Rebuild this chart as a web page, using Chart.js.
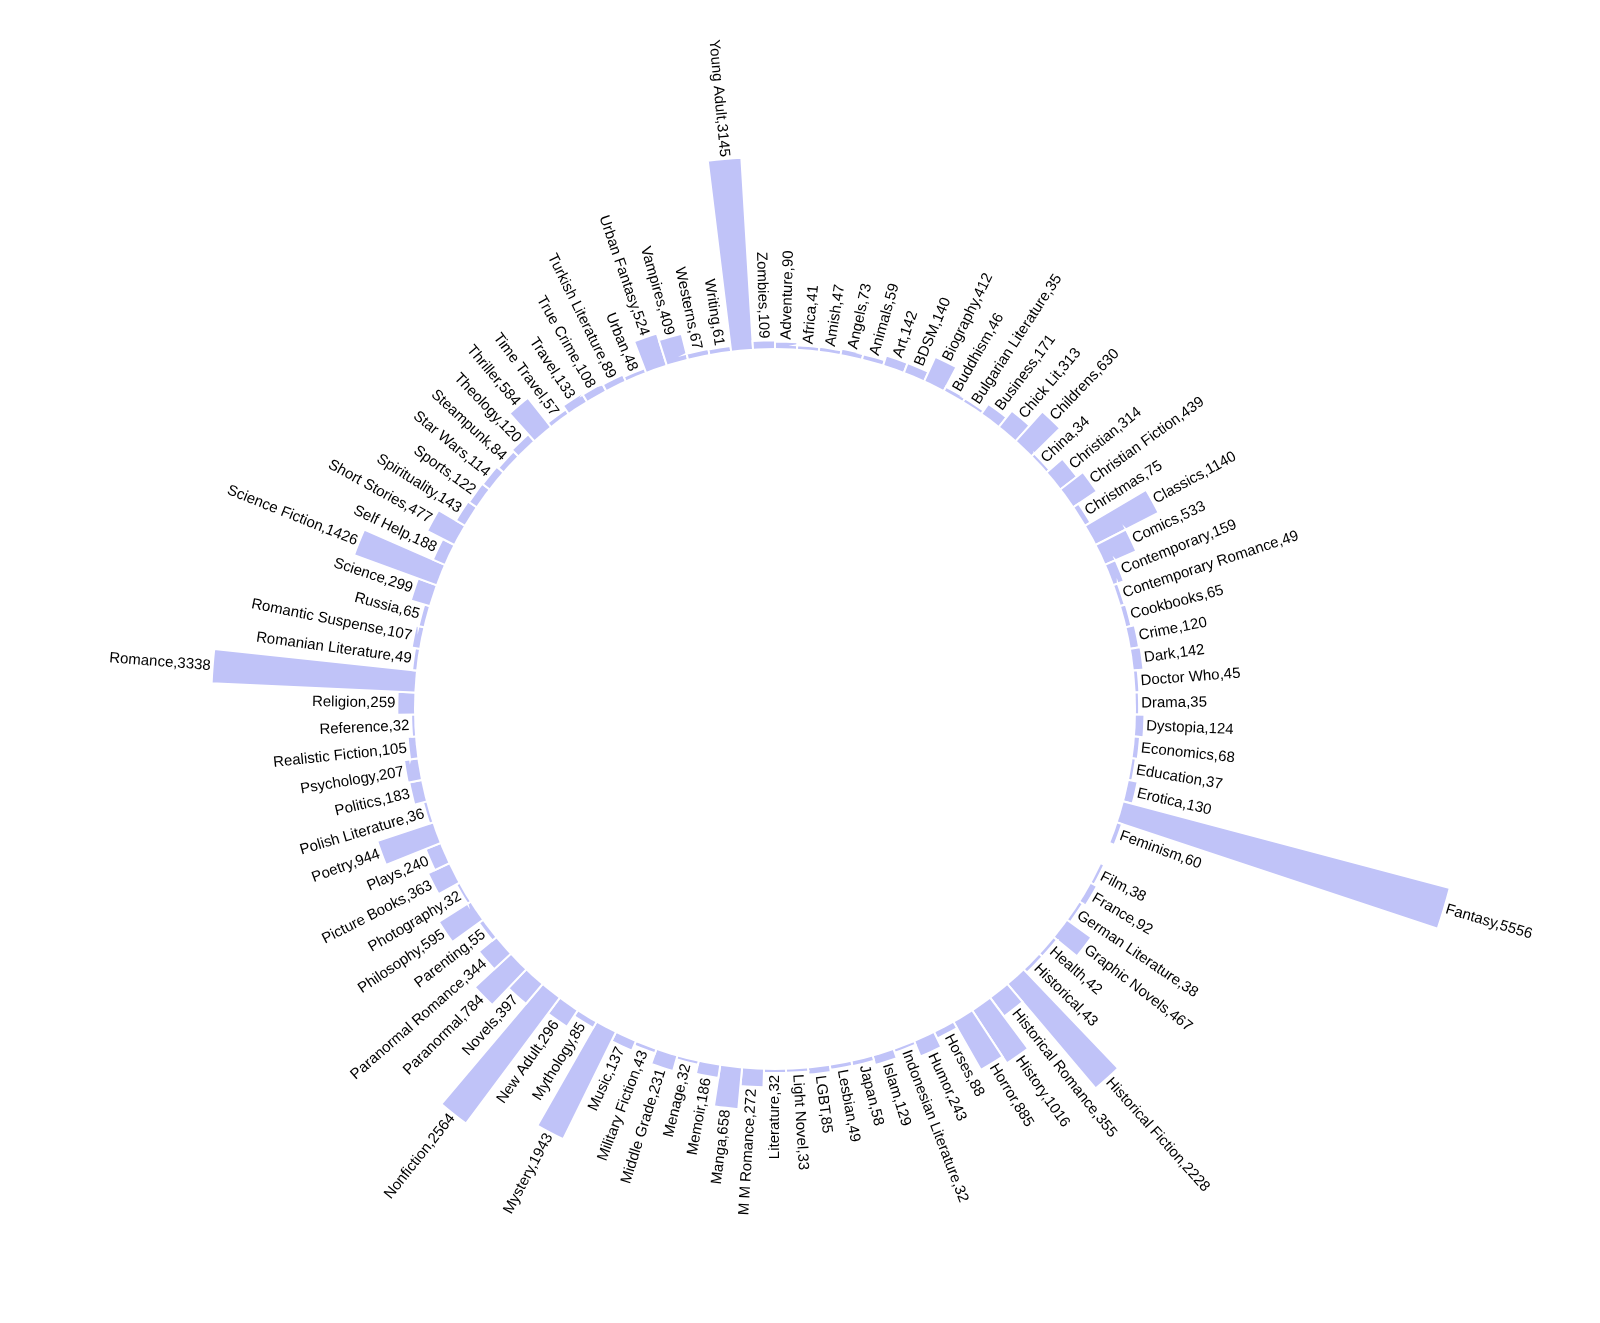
<!DOCTYPE HTML>
<html>

<head>
    <title>Books per genre</title>
    <meta charset="utf-8">
    <script src="https://cdn.jsdelivr.net/npm/chart.js@4.4.1/dist/chart.umd.min.js"></script>
    <style>
        html,
        body {
            margin: 0;
            padding: 0;
            background: #fff;
        }

        .container {
            position: relative;
            width: 1600px;
            height: 1323px;
        }
    </style>
</head>

<body>
    <section class="container">
        <canvas id="genre-chart"></canvas>
    </section>

    <script>
        /************************************/
        // one slot between Feminism and Film is empty in the original (no bar, no label)
        var genres = [
            "Adventure", "Africa", "Amish", "Angels", "Animals", "Art", "BDSM", "Biography", "Buddhism",
            "Bulgarian Literature", "Business", "Chick Lit", "Childrens", "China", "Christian",
            "Christian Fiction", "Christmas", "Classics", "Comics", "Contemporary", "Contemporary Romance",
            "Cookbooks", "Crime", "Dark", "Doctor Who", "Drama", "Dystopia", "Economics", "Education",
            "Erotica", "Fantasy", "Feminism", "", "Film", "France", "German Literature", "Graphic Novels",
            "Health", "Historical", "Historical Fiction", "Historical Romance", "History", "Horror",
            "Horses", "Humor", "Indonesian Literature", "Islam", "Japan", "Lesbian", "LGBT", "Light Novel",
            "Literature", "M M Romance", "Manga", "Memoir", "Menage", "Middle Grade", "Military Fiction",
            "Music", "Mystery", "Mythology", "New Adult", "Nonfiction", "Novels", "Paranormal",
            "Paranormal Romance", "Parenting", "Philosophy", "Photography", "Picture Books", "Plays",
            "Poetry", "Polish Literature", "Politics", "Psychology", "Realistic Fiction", "Reference",
            "Religion", "Romance", "Romanian Literature", "Romantic Suspense", "Russia", "Science",
            "Science Fiction", "Self Help", "Short Stories", "Spirituality", "Sports", "Star Wars",
            "Steampunk", "Theology", "Thriller", "Time Travel", "Travel", "True Crime",
            "Turkish Literature", "Urban", "Urban Fantasy", "Vampires", "Westerns", "Writing",
            "Young Adult", "Zombies"
        ];
        var counts = [
            90, 41, 47, 73, 59, 142, 140, 412, 46,
            35, 171, 313, 630, 34, 314,
            439, 75, 1140, 533, 159, 49,
            65, 120, 142, 45, 35, 124, 68, 37,
            130, 5556, 60, null, 38, 92, 38, 467,
            42, 43, 2228, 355, 1016, 885,
            88, 243, 32, 129, 58, 49, 85, 33,
            32, 272, 658, 186, 32, 231, 43,
            137, 1943, 85, 296, 2564, 397, 784,
            344, 55, 595, 32, 363, 240,
            944, 36, 183, 207, 105, 32,
            259, 3338, 49, 107, 65, 299,
            1426, 188, 477, 143, 122, 114,
            84, 120, 584, 57, 133, 108,
            89, 48, 524, 409, 67, 61,
            3145, 109
        ];
        /************************************/

        // ring geometry (canvas is the whole 1600x1323 page)
        var W = 1600, H = 1323;
        var CX = 775, CY = 709;      // centre of the ring
        var HOLE = 361;              // empty middle
        var PX_PER_BOOK = 0.0605;    // bar length per book
        var LABEL_GAP = 2;

        // the polar area scale starts at a negative value so that 0 sits on the hole edge
        // (+1px because the white border eats a pixel off each bar end)
        var padRight = W - 2 * CX;
        var padTop = 2 * CY - H;
        var drawArea = Math.floor(Math.min(W - padRight, H - padTop) / 2);
        var rMin = -(HOLE + 1) / PX_PER_BOOK;
        var rMax = rMin + drawArea / PX_PER_BOOK;

        var ringLabels = {
            id: 'ringLabels',
            afterDatasetsDraw: function (chart) {
                var ctx = chart.ctx;
                var scale = chart.scales.r;
                var cx = scale.xCenter, cy = scale.yCenter;

                ctx.save();
                // punch out the middle
                ctx.fillStyle = '#fff';
                ctx.beginPath();
                ctx.arc(cx, cy, HOLE, 0, Math.PI * 2);
                ctx.fill();

                ctx.font = '15px "Liberation Sans", Arial, sans-serif';
                ctx.fillStyle = '#000';
                ctx.textBaseline = 'middle';

                chart.getDatasetMeta(0).data.forEach(function (arc, i) {
                    if (counts[i] == null) return;
                    var a = (arc.startAngle + arc.endAngle) / 2;
                    var r = arc.outerRadius + LABEL_GAP;
                    var text = genres[i] + ',' + counts[i];

                    ctx.save();
                    ctx.translate(cx, cy);
                    if (Math.cos(a) >= 0) {
                        ctx.rotate(a);
                        ctx.textAlign = 'left';
                        ctx.fillText(text, r, 0);
                    } else {
                        // left half: flip so the text is not upside down
                        ctx.rotate(a + Math.PI);
                        ctx.textAlign = 'right';
                        ctx.fillText(text, -r, 0);
                    }
                    ctx.restore();
                });
                ctx.restore();
            }
        };

        var chart = new Chart(document.getElementById('genre-chart'), {
            type: 'polarArea',
            data: {
                labels: genres,
                datasets: [{
                    data: counts,
                    backgroundColor: 'rgb(192, 195, 248)',
                    borderColor: '#fff',
                    borderWidth: 2,
                    borderJoinStyle: 'miter',
                    clip: false
                }]
            },
            options: {
                responsive: true,
                maintainAspectRatio: false,
                animation: false,
                layout: {
                    padding: { left: 0, right: padRight, top: padTop, bottom: 0 }
                },
                plugins: {
                    legend: { display: false },
                    tooltip: { enabled: false }
                },
                scales: {
                    r: {
                        display: false,
                        min: rMin,
                        max: rMax,
                        ticks: { display: false },
                        pointLabels: { display: false }
                    }
                }
            },
            plugins: [ringLabels]
        });
    </script>
</body>

</html>
